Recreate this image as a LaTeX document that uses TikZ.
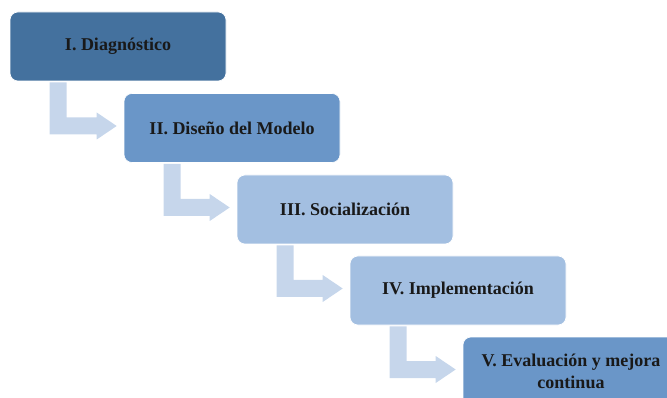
\documentclass[tikz,border=0pt]{standalone}
\usepackage{fontspec}
\setmainfont{Liberation Serif}
\usetikzlibrary{calc}
\definecolor{cA}{HTML}{44719E}
\definecolor{cB}{HTML}{6A96C8}
\definecolor{cC}{HTML}{A3BFE1}
\definecolor{cArr}{HTML}{C6D6EB}
\tikzset{
  stepbox/.style={rounded corners=8pt, draw=white, line width=0.6pt,
    minimum width=216pt, minimum height=69pt, inner sep=0pt,
    align=center, font=\fontsize{18}{22}\selectfont\bfseries, text=black!90},
  bentarrow/.style={fill=cArr, draw=none}
}
\newcommand{\bentconn}[2]{%
  \fill[bentarrow] let \p1=(#1.south west), \p2=(#2.west) in
    (\x1+40pt,\y1-1pt) -- (\x1+57pt,\y1-1pt) -- (\x1+57pt,\y2+10.5pt)
    -- (\x2-27pt,\y2+10.5pt) -- (\x2-27pt,\y2+15.5pt) -- (\x2-7pt,\y2+2pt)
    -- (\x2-27pt,\y2-11.5pt) -- (\x2-27pt,\y2-6.5pt) -- (\x1+40pt,\y2-6.5pt) -- cycle;}
\begin{document}
\begin{tikzpicture}[x=1pt,y=-1pt]
\useasboundingbox (0,0) rectangle (667,398);
\begin{scope}
\clip (0,0) rectangle (667,398);
\node[stepbox, fill=cA] (b1) at (118,46.5) {I. Diagnóstico};
\node[stepbox, fill=cB] (b2) at (232,128) {II. Diseño del Modelo};
\node[stepbox, fill=cC] (b3) at (345,209.5) {III. Socialización};
\node[stepbox, fill=cC] (b4) at (458,290.5) {IV. Implementación};
\node[stepbox, fill=cB] (b5) at (571,371.5) {V. Evaluación y mejora\\continua};
\bentconn{b1}{b2}
\bentconn{b2}{b3}
\bentconn{b3}{b4}
\bentconn{b4}{b5}
\end{scope}
\end{tikzpicture}
\end{document}
